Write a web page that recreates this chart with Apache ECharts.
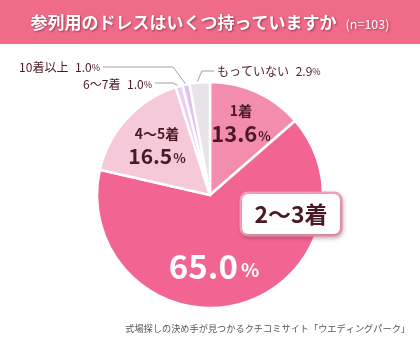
<!DOCTYPE html>
<html>
<head>
<meta charset="utf-8">
<script src="https://cdn.jsdelivr.net/npm/echarts@6/dist/echarts.min.js"></script>
<style>
  html, body { margin: 0; padding: 0; background: #fff; }
  #chart { width: 420px; height: 340px; }
</style>
</head>
<body>
<div id="chart"></div>
<script>
// Survey: how many dresses for attending weddings do you own
const titleText = '参列用のドレスはいくつ持っていますか';
const sampleSize = 103;
const sourceText = '式場探しの決め手が見つかるクチコミサイト「ウエディングパーク」';

const categories = ['1着', '2〜3着', '4〜5着', '6〜7着', '10着以上', 'もっていない'];
const shares = [13.6, 65.0, 16.5, 1.0, 1.0, 2.9];
const sliceColors = ['#F38DAE', '#F26592', '#F6C9DA', '#EACDF0', '#DFC3EC', '#E8E3E9'];

const FONT = '"Noto Sans CJK JP", "Noto Sans", sans-serif';
const DARK = '#4A1A24';

const CX = 210, CY = 195, R = 113;

// label styles per slice: big slices carry their text inside, small ones outside
function labelFor(i) {
  const base = { fontFamily: FONT, color: DARK };
  if (i === 0 || i === 2) {
    return {
      show: true, position: 'inside',
      formatter: p => `{n|${p.name}}\n{v|${p.value.toFixed(1)}}{p|%}`,
      rich: {
        n: Object.assign({}, base, { fontSize: 14, fontWeight: 'bold', lineHeight: 24, align: 'center' }),
        v: Object.assign({}, base, { fontSize: i === 0 ? 22 : 21, fontWeight: 'bold' }),
        p: Object.assign({}, base, { fontSize: 13, fontWeight: 'bold', padding: [4, 0, 0, 1] })
      }
    };
  }
  if (i === 1) {
    return {
      show: true, position: 'inside',
      formatter: p => `{v|${p.value.toFixed(1)}}{p|%}`,
      rich: {
        v: { fontFamily: FONT, color: '#fff', fontSize: 33, fontWeight: 'bold' },
        p: { fontFamily: FONT, color: '#fff', fontSize: 19, fontWeight: 'bold', padding: [8, 0, 0, 3] }
      }
    };
  }
  return {
    show: true, position: 'outside',
    formatter: p => `{n|${p.name}}  {v|${p.value.toFixed(1)}}{p|%}`,
    rich: {
      n: Object.assign({}, base, { fontSize: 12 }),
      v: Object.assign({}, base, { fontSize: 12 }),
      p: Object.assign({}, base, { fontSize: 9, padding: [2, 0, 0, 0] })
    }
  };
}

// where each label sits on the canvas
const labelSpots = {
  0: { x: 241, y: 122, align: 'center' },
  1: { x: 214, y: 266, align: 'center' },
  2: { x: 157, y: 144, align: 'center' },
  3: { x: 152, y: 84, align: 'right', line: (a) => [a, [a[0] - 6, 83], [155, 83]] },
  4: { x: 100, y: 67, align: 'right', line: (a) => [a, [173, 67], [103, 67]] },
  5: { x: 217, y: 71, align: 'left', line: (a) => [[a[0] - 5, a[1] + 5], [202, 71], [214, 71]] }
};

const pieData = categories.map((name, i) => ({
  name,
  value: shares[i],
  itemStyle: { color: sliceColors[i] },
  label: labelFor(i),
  labelLine: { show: i >= 3, lineStyle: { color: '#A89CA4', width: 1 }, smooth: false }
}));

// second layer carries only the category callout of the largest slice
const calloutIndex = 1;
const calloutData = categories.map((name, i) => ({
  name,
  value: shares[i],
  label: i === calloutIndex ? {
    show: true, position: 'inside',
    formatter: p => p.name,
    fontFamily: FONT, fontSize: 23, fontWeight: 'bold', color: DARK,
    backgroundColor: '#fff', borderColor: '#F2A3BA', borderWidth: 2.5, borderRadius: 6,
    width: 98, height: 40, align: 'center', verticalAlign: 'middle', lineHeight: 40,
    shadowColor: 'rgba(120,40,60,0.3)', shadowBlur: 4, shadowOffsetX: 1, shadowOffsetY: 2
  } : { show: false }
}));

const chart = echarts.init(document.getElementById('chart'), null, { renderer: 'canvas' });

chart.setOption({
  backgroundColor: '#fff',
  animation: false,
  title: [
    {
      text: `{a|${titleText}} {b|(n=${sampleSize})}`,
      left: 'center', top: 9,
      textStyle: {
        rich: {
          a: {
            fontFamily: FONT, fontSize: 17, fontWeight: 'bold', color: '#fff',
            textShadowColor: 'rgba(90,20,40,0.55)', textShadowBlur: 2, textShadowOffsetX: 1, textShadowOffsetY: 1
          },
          b: {
            fontFamily: FONT, fontSize: 12.5, fontWeight: 'normal', color: '#fff', padding: [3, 0, 0, 4],
            textShadowColor: 'rgba(90,20,40,0.55)', textShadowBlur: 2, textShadowOffsetX: 1, textShadowOffsetY: 1
          }
        }
      }
    },
    {
      text: sourceText,
      right: 5, top: 319,
      textStyle: { fontFamily: FONT, fontSize: 9.2, fontWeight: 'normal', color: '#555' }
    }
  ],
  graphic: [
    { type: 'rect', z: -1, shape: { x: 0, y: 0, width: 420, height: 44 }, style: { fill: '#EF6B88' } },
    // callout tail pointing at the large slice
    {
      type: 'group', z: 20, children: [
        { type: 'polygon', shape: { points: [[251, 231], [266, 231], [257, 252]] }, style: { fill: '#fff' } },
        { type: 'polyline', shape: { points: [[251, 235.5], [257, 252], [266, 235.5]] }, style: { stroke: '#F2A3BA', lineWidth: 2, fill: null } }
      ]
    }
  ],
  series: [
    {
      type: 'pie',
      center: [CX, CY],
      radius: R,
      startAngle: 90,
      clockwise: true,
      silent: true,
      avoidLabelOverlap: false,
      itemStyle: { borderColor: '#fff', borderWidth: 2.5 },
      data: pieData,
      labelLayout: params => {
        const s = labelSpots[params.dataIndex];
        const out = { x: s.x, y: s.y, align: s.align, verticalAlign: 'middle' };
        if (s.line && params.labelLinePoints) {
          out.labelLinePoints = s.line(params.labelLinePoints[0]);
        }
        return out;
      }
    },
    {
      type: 'pie',
      z: 5,
      center: [CX, CY],
      radius: R,
      startAngle: 90,
      clockwise: true,
      silent: true,
      avoidLabelOverlap: false,
      itemStyle: { color: 'rgba(0,0,0,0)', borderWidth: 0 },
      labelLine: { show: false },
      data: calloutData,
      labelLayout: () => ({ x: 291, y: 214, align: 'center', verticalAlign: 'middle' })
    }
  ]
});
</script>
</body>
</html>
